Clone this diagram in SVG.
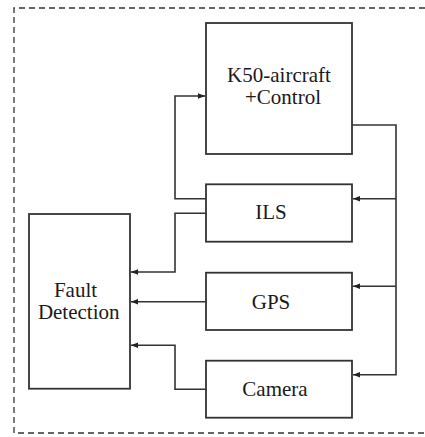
<svg xmlns="http://www.w3.org/2000/svg" width="425" height="437" viewBox="0 0 425 437">
<style>
.box{fill:#fff;stroke:#333;stroke-width:1.8}
.lbl{font-family:'Liberation Serif','Times New Roman','DejaVu Serif',serif;font-size:21px;fill:#1a1a1a;text-anchor:middle}
.c{fill:none;stroke:#333;stroke-width:1.6}
.border{fill:none;stroke:#333;stroke-width:1.3;stroke-dasharray:6 4}
</style>
<defs>
<marker id="ah" viewBox="0 0 10 10" refX="10" refY="5" markerWidth="7" markerHeight="7" markerUnits="userSpaceOnUse" orient="auto">
<path d="M0,1 L10,5 L0,9 Z" fill="#222"/>
</marker>
</defs>
<rect width="425" height="437" fill="#fff"/>
<path class="border" d="M425,8 H14 V433 H425"/>
<g id="connectors">
<path class="c" d="M352,125 H396 V374.7 H353" marker-end="url(#ah)"/>
<path class="c" d="M396,198.7 H353" marker-end="url(#ah)"/>
<path class="c" d="M396,286.3 H353" marker-end="url(#ah)"/>
<path class="c" d="M206,198.7 H175 V96 H205" marker-end="url(#ah)"/>
<path class="c" d="M206,213.3 H175 V272 H131" marker-end="url(#ah)"/>
<path class="c" d="M206,301.7 H131" marker-end="url(#ah)"/>
<path class="c" d="M206,389.3 H175 V345.3 H131" marker-end="url(#ah)"/>
</g>
<g id="k50">
<rect class="box" x="206" y="23" width="146" height="131"/>
<text class="lbl" x="279" y="82" font-family="Liberation Serif, serif">K50-aircraft</text>
<text class="lbl" x="283" y="104" font-family="Liberation Serif, serif">+Control</text>
</g>
<g id="ils">
<rect class="box" x="206" y="184.3" width="146" height="57.4"/>
<text class="lbl" x="271" y="219.3" font-family="Liberation Serif, serif">ILS</text>
</g>
<g id="gps">
<rect class="box" x="206" y="272.7" width="146" height="57.3"/>
<text class="lbl" x="271" y="309.3" font-family="Liberation Serif, serif">GPS</text>
</g>
<g id="camera">
<rect class="box" x="206" y="360.7" width="146" height="57"/>
<text class="lbl" x="275" y="396" font-family="Liberation Serif, serif">Camera</text>
</g>
<g id="fault">
<rect class="box" x="29" y="214" width="101" height="174.7"/>
<text class="lbl" x="75.5" y="296.7" font-family="Liberation Serif, serif">Fault</text>
<text class="lbl" x="78.7" y="319.3" font-family="Liberation Serif, serif">Detection</text>
</g>
</svg>
